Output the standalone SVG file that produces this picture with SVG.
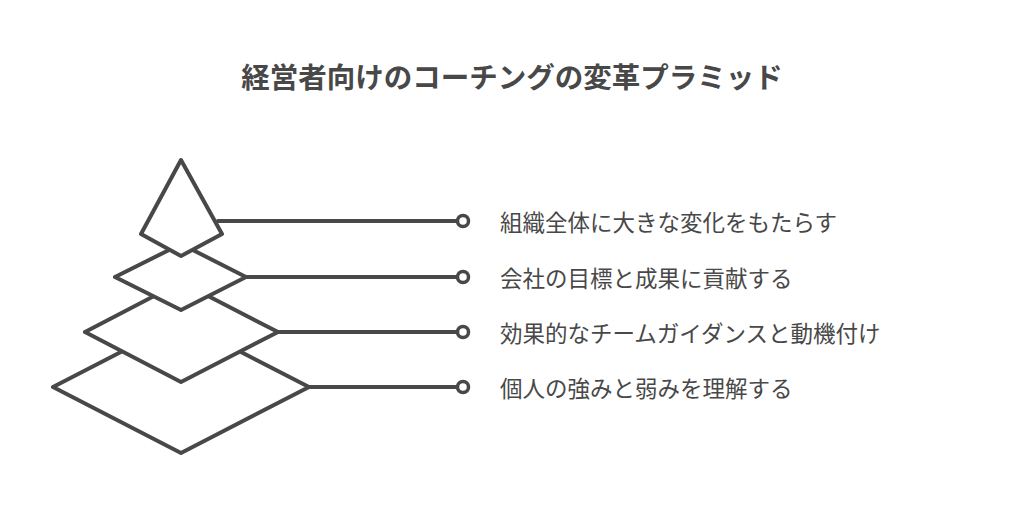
<svg xmlns="http://www.w3.org/2000/svg" width="1024" height="514" viewBox="0 0 1024 514">
<style>
.s{fill:#fff;stroke:#484848;stroke-width:4;stroke-linejoin:round}
.c{fill:none;stroke:#484848;stroke-width:4;stroke-linecap:round}
.d{fill:#fff;stroke:#484848;stroke-width:3.5}
.t{font-family:"Noto Sans CJK JP",sans-serif;font-size:22.5px;fill:#484848;dominant-baseline:central}
.h{font-family:"Noto Sans CJK JP",sans-serif;font-size:28.5px;font-weight:bold;fill:#484848;text-anchor:middle}
</style>
<rect width="1024" height="514" fill="#fff"/>
<text class="h" x="512" y="88">経営者向けのコーチングの変革プラミッド</text>
<g id="connectors">
<line class="c" x1="218" y1="221" x2="458" y2="221"/>
<line class="c" x1="246" y1="277" x2="458" y2="277"/>
<line class="c" x1="278" y1="332" x2="458" y2="332"/>
<line class="c" x1="309" y1="387" x2="458" y2="387"/>
<circle class="d" cx="463" cy="221" r="5.5"/>
<circle class="d" cx="463" cy="277" r="5.5"/>
<circle class="d" cx="463" cy="332" r="5.5"/>
<circle class="d" cx="463" cy="387" r="5.5"/>
</g>
<g id="layer4"><polygon class="s" points="53,387 181,321 309,387 181,453"/><text class="t" x="500" y="387">個人の強みと弱みを理解する</text></g>
<g id="layer3"><polygon class="s" points="85,332 181,282 278,332 181,382"/><text class="t" x="500" y="332">効果的なチームガイダンスと動機付け</text></g>
<g id="layer2"><polygon class="s" points="115,277 181,244 246,277 181,310"/><text class="t" x="500" y="277">会社の目標と成果に貢献する</text></g>
<g id="layer1"><polygon class="s" points="181,160 222,234 181,256 141,234"/><text class="t" x="500" y="221">組織全体に大きな変化をもたらす</text></g>
</svg>
